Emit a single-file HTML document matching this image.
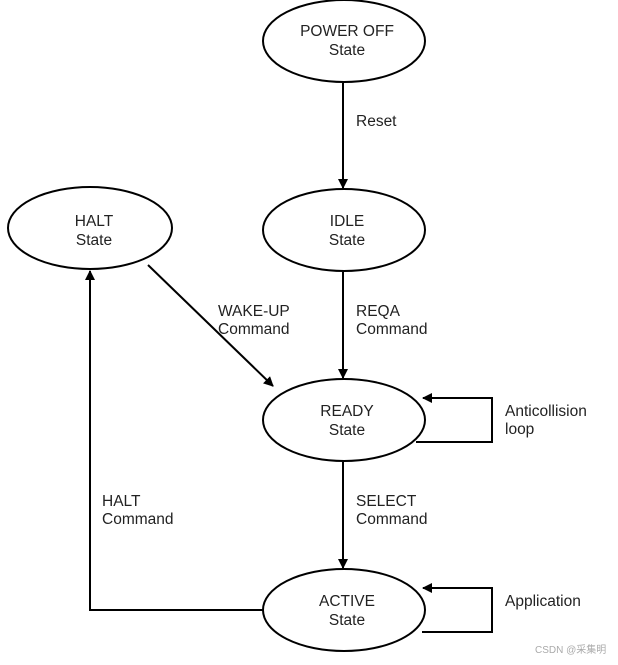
<!DOCTYPE html>
<html><head><meta charset="utf-8"><style>
html,body{margin:0;padding:0;background:#fff;}
svg text{font-family:"Liberation Sans",Arial,sans-serif;font-size:15.5px;fill:#222;}
</style></head><body>
<svg width="618" height="660" viewBox="0 0 618 660" xmlns="http://www.w3.org/2000/svg">
<defs><marker id="a" markerWidth="10" markerHeight="10" refX="9" refY="5" orient="auto" markerUnits="userSpaceOnUse"><path d="M0,0 L10,5 L0,10 z" fill="#000"/></marker></defs>
<g fill="none" stroke="#000" stroke-width="2">
<ellipse cx="344" cy="41" rx="81" ry="41"/>
<ellipse cx="344" cy="230" rx="81" ry="41"/>
<ellipse cx="90" cy="228" rx="82" ry="41"/>
<ellipse cx="344" cy="420" rx="81" ry="41"/>
<ellipse cx="344" cy="610" rx="81" ry="41"/>
<line x1="343" y1="83" x2="343" y2="188" marker-end="url(#a)"/>
<line x1="343" y1="272" x2="343" y2="378" marker-end="url(#a)"/>
<line x1="343" y1="462" x2="343" y2="568" marker-end="url(#a)"/>
<line x1="148" y1="265" x2="273" y2="386" marker-end="url(#a)"/>
<polyline points="263,610 90,610 90,271" marker-end="url(#a)"/>
<polyline points="416,442 492,442 492,398 423,398" marker-end="url(#a)"/>
<polyline points="422,632 492,632 492,588 423,588" marker-end="url(#a)"/>
</g>
<g text-anchor="middle">
<text x="347" y="36">POWER OFF</text><text x="347" y="55">State</text>
<text x="347" y="226">IDLE</text><text x="347" y="245">State</text>
<text x="94" y="226">HALT</text><text x="94" y="245">State</text>
<text x="347" y="416">READY</text><text x="347" y="435">State</text>
<text x="347" y="606">ACTIVE</text><text x="347" y="625">State</text>
</g>
<text x="356" y="126">Reset</text>
<text x="218" y="316">WAKE-UP</text><text x="218" y="334">Command</text>
<text x="356" y="316">REQA</text><text x="356" y="334">Command</text>
<text x="505" y="416">Anticollision</text><text x="505" y="434">loop</text>
<text x="102" y="506">HALT</text><text x="102" y="524">Command</text>
<text x="356" y="506">SELECT</text><text x="356" y="524">Command</text>
<text x="505" y="606">Application</text>
<text x="535" y="653" style="font-size:10px;fill:#aaa;font-family:'Liberation Sans','Noto Sans CJK SC',sans-serif">CSDN @采集明</text>
</svg>
</body></html>
